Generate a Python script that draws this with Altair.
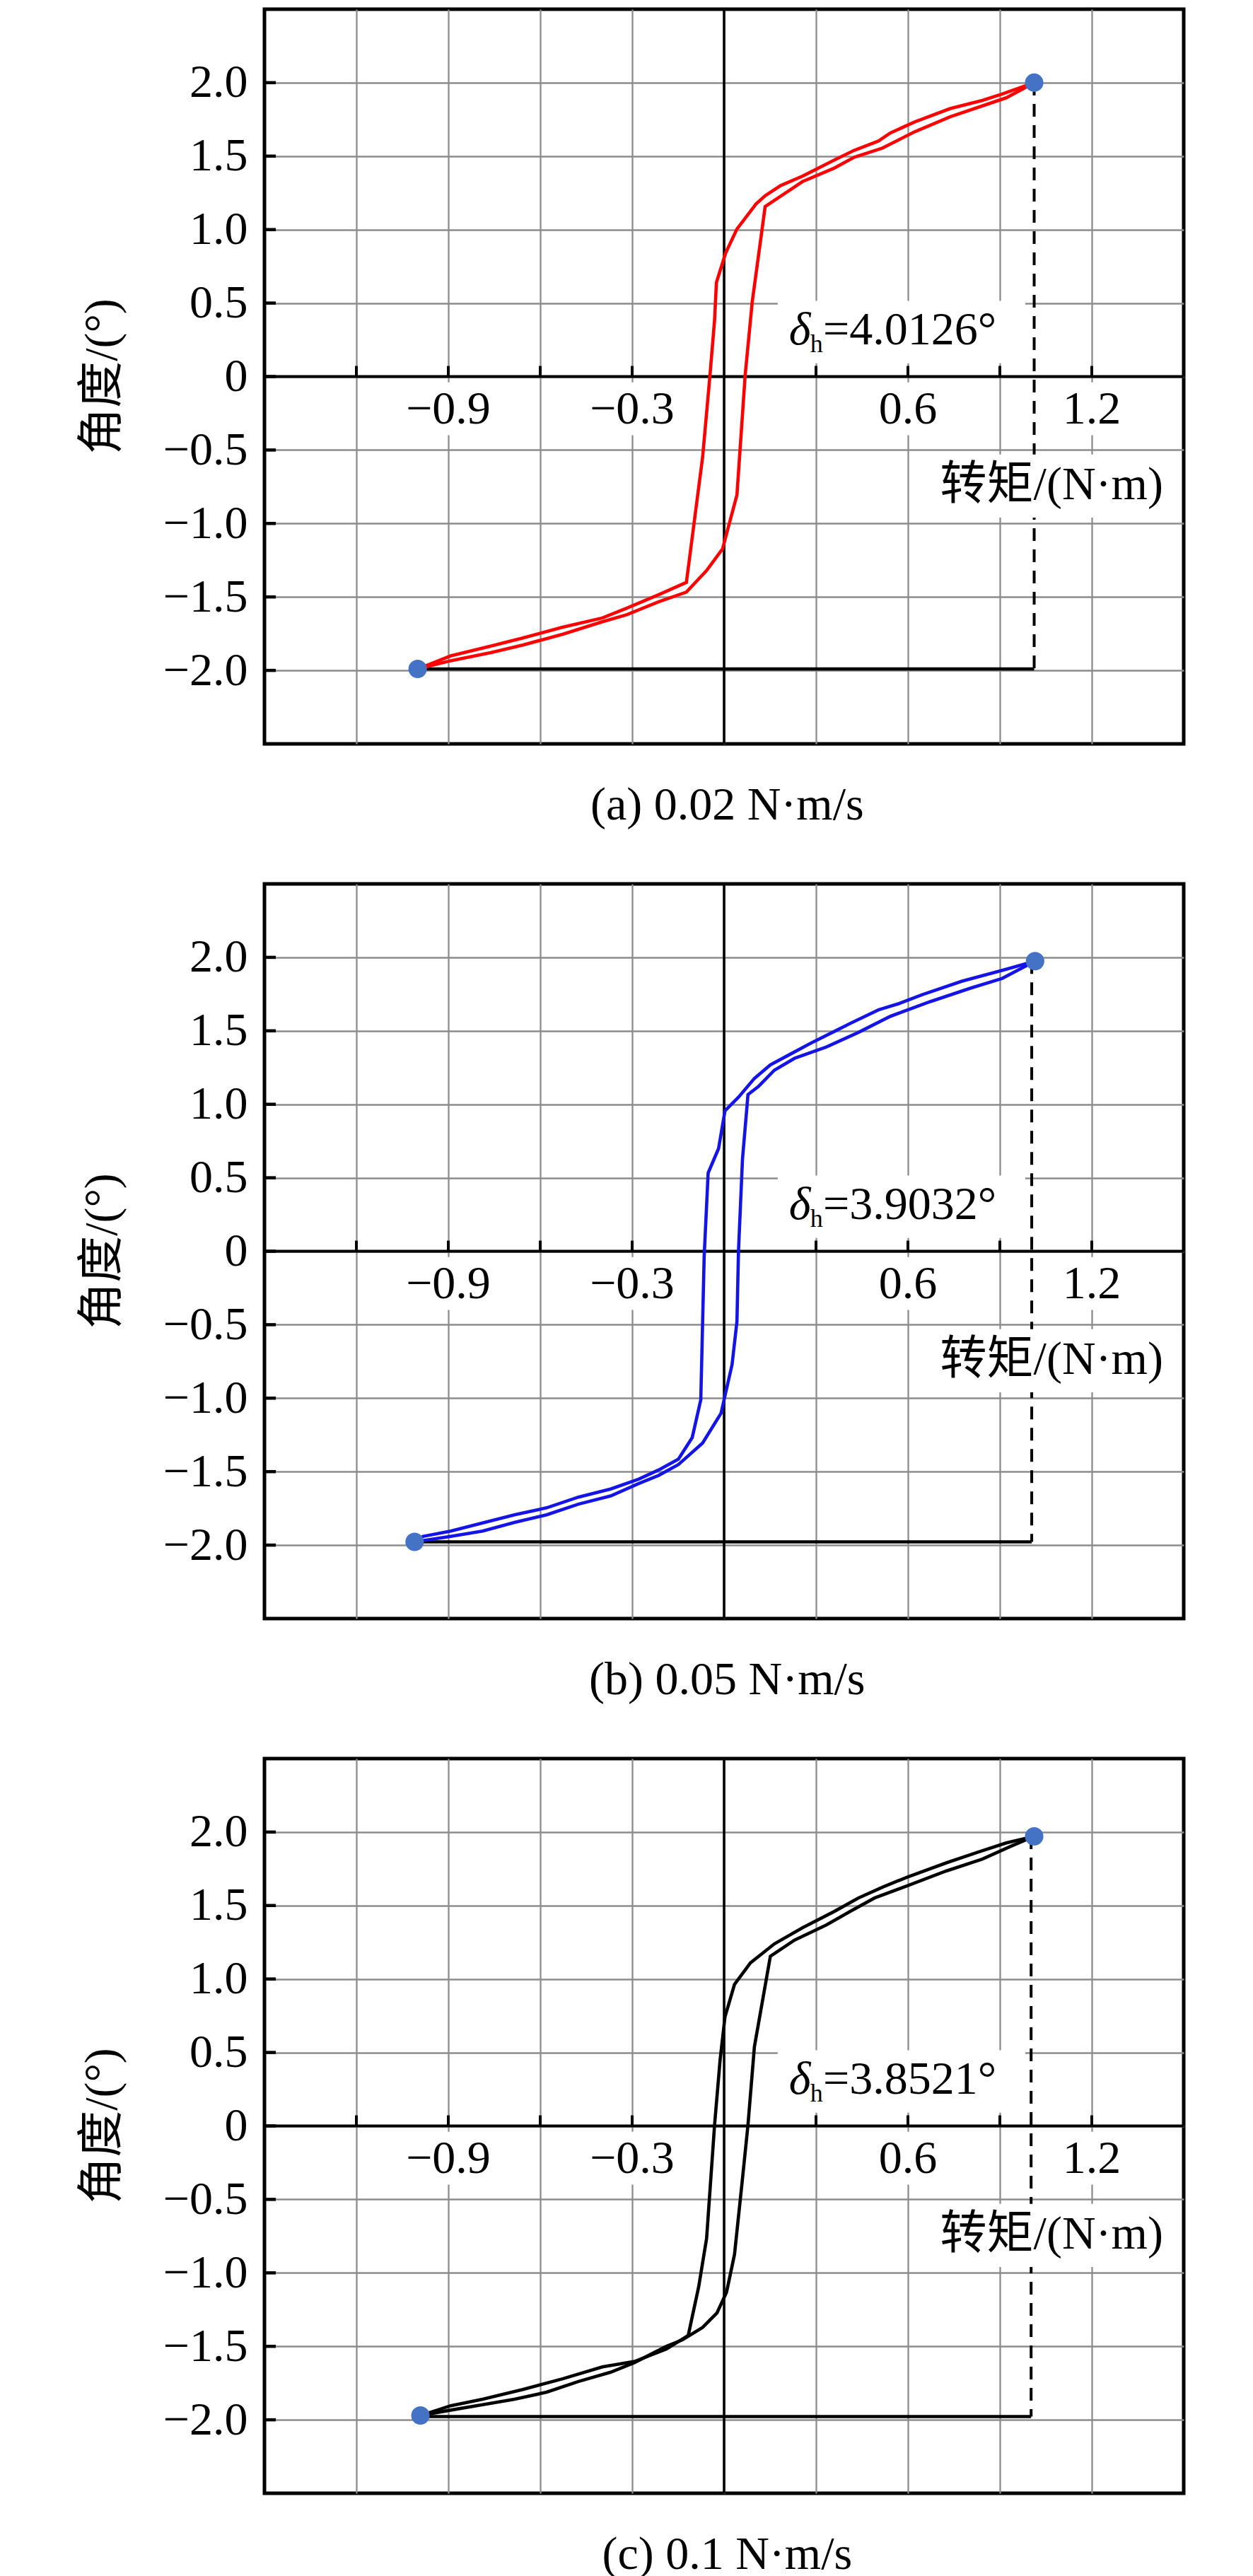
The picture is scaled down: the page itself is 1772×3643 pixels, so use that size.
import altair as alt
import pandas as pd

SERIF = "Liberation Serif"
MIXED = "Liberation Serif, Noto Sans CJK SC"

# ---------------- axis values ----------------
x_grid = [-1.2, -0.9, -0.6, -0.3, 0.0, 0.3, 0.6, 0.9, 1.2]
x_tick_marks = [-1.2, -0.9, -0.6, -0.3, 0.3, 0.6, 0.9, 1.2]
x_labels = [-0.9, -0.3, 0.6, 1.2]
x_label_text = ["−0.9", "−0.3", "0.6", "1.2"]
y_ticks = [-2.0, -1.5, -1.0, -0.5, 0.0, 0.5, 1.0, 1.5, 2.0]

captions = ["(a) 0.02 N·m/s", "(b) 0.05 N·m/s", "(c) 0.1 N·m/s"]
delta_values = ["=4.0126°", "=3.9032°", "=3.8521°"]
line_colors = ["#ff0000", "#1414e6", "#000000"]
x_title = "转矩/(N·m)"
y_title = "角度/(°)"

# ---------------- end points ----------------
left_x = [-1.0, -1.01, -0.991]
left_y = [-1.99, -1.978, -1.971]
right_x = [1.012, 1.015, 1.012]
right_y = [2.0, 1.974, 1.971]
dash_x = [1.012, 1.004, 1.002]
base_y = [-1.99, -1.978, -1.978]

# ---------------- panel (a) ----------------
a_up_x = [1.012, 0.908, 0.843, 0.738, 0.621, 0.543, 0.504, 0.425, 0.360, 0.256, 0.185, 0.134,
          0.104, 0.042, 0.005, -0.025, -0.031, -0.046, -0.070, -0.123, -0.214, -0.318, -0.397,
          -0.527, -0.657, -0.762, -0.892, -1.0]
a_up_y = [2.0, 1.923, 1.879, 1.824, 1.732, 1.658, 1.603, 1.540, 1.474, 1.364, 1.30, 1.23,
          1.174, 1.004, 0.84, 0.64, 0.385, 0.01, -0.548, -1.401, -1.485, -1.577, -1.643,
          -1.706, -1.779, -1.835, -1.901, -1.99]
a_lo_x = [-1.0, -0.892, -0.762, -0.657, -0.527, -0.397, -0.318, -0.214, -0.123, -0.057, -0.005,
          0.042, 0.069, 0.092, 0.134, 0.204, 0.256, 0.360, 0.425, 0.517, 0.621, 0.738, 0.843,
          0.921, 1.012]
a_lo_y = [-1.99, -1.934, -1.879, -1.827, -1.754, -1.669, -1.621, -1.533, -1.467, -1.320, -1.173,
          -0.805, 0.014, 0.51, 1.157, 1.254, 1.327, 1.419, 1.493, 1.555, 1.665, 1.768, 1.842,
          1.897, 2.0]

# ---------------- panel (b) ----------------
b_up_x = [1.015, 0.908, 0.777, 0.647, 0.569, 0.504, 0.412, 0.360, 0.282, 0.217, 0.151, 0.099,
          0.047, 0.003, -0.018, -0.052, -0.065, -0.076, -0.104, -0.149, -0.214, -0.279, -0.370,
          -0.475, -0.579, -0.684, -0.788, -0.892, -0.983, -1.01]
b_up_y = [1.974, 1.912, 1.838, 1.746, 1.684, 1.643, 1.551, 1.496, 1.415, 1.342, 1.268, 1.176,
          1.048, 0.956, 0.699, 0.533, -0.037, -1.011, -1.268, -1.415, -1.489, -1.551, -1.618,
          -1.673, -1.746, -1.794, -1.849, -1.904, -1.941, -1.978]
b_lo_x = [-1.01, -0.892, -0.788, -0.684, -0.579, -0.475, -0.370, -0.279, -0.214, -0.149, -0.070,
          -0.010, 0.026, 0.042, 0.047, 0.060, 0.078, 0.112, 0.164, 0.230, 0.334, 0.438, 0.543,
          0.673, 0.804, 0.908, 1.015]
b_lo_y = [-1.978, -1.941, -1.904, -1.846, -1.794, -1.721, -1.665, -1.581, -1.526, -1.452, -1.305,
          -1.103, -0.772, -0.478, 0.0, 0.625, 1.066, 1.121, 1.232, 1.313, 1.390, 1.489, 1.599,
          1.699, 1.790, 1.857, 1.974]

# ---------------- panel (c) ----------------
c_up_x = [1.012, 0.921, 0.830, 0.725, 0.595, 0.517, 0.438, 0.360, 0.256, 0.164, 0.086, 0.034,
          0.003, -0.013, -0.031, -0.057, -0.083, -0.117, -0.188, -0.292, -0.397, -0.527, -0.657,
          -0.788, -0.892, -0.991]
c_up_y = [1.971, 1.926, 1.864, 1.790, 1.691, 1.625, 1.551, 1.460, 1.349, 1.239, 1.110, 0.963,
          0.743, 0.449, 0.007, -0.765, -1.096, -1.426, -1.518, -1.603, -1.640, -1.721, -1.794,
          -1.860, -1.904, -1.971]
c_lo_x = [-0.991, -0.892, -0.788, -0.684, -0.579, -0.475, -0.370, -0.292, -0.188, -0.136, -0.070,
          -0.023, 0.008, 0.034, 0.060, 0.078, 0.099, 0.151, 0.230, 0.334, 0.412, 0.491, 0.595,
          0.725, 0.843, 0.934, 1.012]
c_lo_y = [-1.971, -1.934, -1.897, -1.860, -1.812, -1.739, -1.676, -1.610, -1.500, -1.456, -1.371,
          -1.272, -1.132, -0.875, -0.360, 0.007, 0.540, 1.154, 1.265, 1.368, 1.460, 1.551, 1.632,
          1.735, 1.816, 1.901, 1.971]

branches = [
    (a_up_x, a_up_y, a_lo_x, a_lo_y),
    (b_up_x, b_up_y, b_lo_x, b_lo_y),
    (c_up_x, c_up_y, c_lo_x, c_lo_y),
]

XS = alt.Scale(domain=[-1.5, 1.5], nice=False, zero=False)
YS = alt.Scale(domain=[-2.5, 2.5], nice=False, zero=False)
GRID = "#8c8c8c"
FS = 66


def one_row():
    return pd.DataFrame({"k": [0]})


def panel(i):
    ux, uy, lx, ly = branches[i]
    curve = pd.DataFrame({
        "x": ux + lx,
        "y": uy + ly,
        "branch": ["up"] * len(ux) + ["lo"] * len(lx),
        "idx": list(range(len(ux))) + list(range(len(lx))),
    })

    xticks = alt.Chart(pd.DataFrame({"x": x_tick_marks})).mark_rule(
        color="black", strokeWidth=4
    ).encode(
        x=alt.X("x:Q", scale=XS, axis=alt.Axis(
            values=x_grid, grid=True, gridColor=GRID, gridWidth=2.3, gridOpacity=1,
            labels=False, ticks=False, domain=False, title=None)),
        y=alt.datum(0.0),
        y2=alt.datum(0.072),
    )
    yticks = alt.Chart(pd.DataFrame({"y": y_ticks})).mark_rule(
        color="black", strokeWidth=4.5
    ).encode(
        y=alt.Y("y:Q", scale=YS, axis=alt.Axis(
            values=y_ticks, grid=True, gridColor=GRID, gridWidth=2.3, gridOpacity=1,
            ticks=False, tickSize=0, domain=False, title=None,
            labelExpr="datum.value == 0 ? '0' : format(datum.value, '.1f')",
            labelFont=SERIF, labelFontSize=FS, labelColor="black", labelPadding=24)),
        x=alt.datum(-1.5),
        x2=alt.datum(-1.463),
    )

    boxes = pd.DataFrame({
        "x1": [v - 0.13 for v in x_labels] + [0.175],
        "x2": [v + 0.13 for v in x_labels] + [0.983],
        "y1": [-0.04] * len(x_labels) + [0.09],
        "y2": [-0.40] * len(x_labels) + [0.515],
    })
    box_layer = alt.Chart(boxes).mark_rect(color="white").encode(
        x=alt.X("x1:Q"), x2="x2:Q", y=alt.Y("y1:Q"), y2="y2:Q")
    title_box = alt.Chart(pd.DataFrame({"x1": [0.70], "x2": [1.44], "y1": [-0.53], "y2": [-0.96]})
                          ).mark_rect(color="white").encode(
        x=alt.X("x1:Q"), x2="x2:Q", y=alt.Y("y1:Q"), y2="y2:Q")

    zero_h = alt.Chart(one_row()).mark_rule(color="black", strokeWidth=4.2).encode(
        x=alt.datum(-1.5), x2=alt.datum(1.5), y=alt.datum(0.0))
    zero_v = alt.Chart(one_row()).mark_rule(color="black", strokeWidth=3.6).encode(
        x=alt.datum(0.0), y=alt.datum(-2.5), y2=alt.datum(2.5))

    base = alt.Chart(one_row()).mark_rule(color="black", strokeWidth=4.5).encode(
        x=alt.datum(left_x[i]), x2=alt.datum(dash_x[i]), y=alt.datum(base_y[i]))
    dashed = alt.Chart(one_row()).mark_rule(color="black", strokeWidth=4, strokeDash=[18, 12]).encode(
        x=alt.datum(dash_x[i]), y=alt.datum(right_y[i]), y2=alt.datum(base_y[i]))

    line = alt.Chart(curve).mark_line(color=line_colors[i], strokeWidth=4.6).encode(
        x="x:Q", y="y:Q", detail="branch:N", order="idx:Q")

    dots = alt.Chart(pd.DataFrame({"x": [left_x[i], right_x[i]], "y": [left_y[i], right_y[i]]})
                     ).mark_circle(size=680, color="#4472c4", opacity=1).encode(x="x:Q", y="y:Q")

    xlab = alt.Chart(pd.DataFrame({"x": x_labels, "t": x_label_text})).mark_text(
        font=SERIF, fontSize=FS, align="center", baseline="alphabetic", color="black"
    ).encode(x="x:Q", y=alt.datum(-0.318), text="t:N")

    d_sym = alt.Chart(one_row()).mark_text(
        text="δ", font=SERIF, fontStyle="italic", fontSize=FS, align="left",
        baseline="alphabetic", color="black").encode(x=alt.datum(0.212), y=alt.datum(0.221))
    d_sub = alt.Chart(one_row()).mark_text(
        text="h", font=SERIF, fontSize=36, align="left",
        baseline="alphabetic", color="black").encode(x=alt.datum(0.281), y=alt.datum(0.164))
    d_val = alt.Chart(one_row()).mark_text(
        text=delta_values[i], font=SERIF, fontSize=FS, align="left",
        baseline="alphabetic", color="black").encode(x=alt.datum(0.323), y=alt.datum(0.221))

    xt = alt.Chart(one_row()).mark_text(
        text=x_title, font=MIXED, fontSize=FS, align="center",
        baseline="alphabetic", color="black").encode(x=alt.datum(1.069), y=alt.datum(-0.837))
    yt = alt.Chart(one_row()).mark_text(
        text=y_title, font=MIXED, fontSize=FS, align="center", angle=270,
        baseline="middle", color="black").encode(x=alt.datum(-2.028), y=alt.datum(0.0))
    cap = alt.Chart(one_row()).mark_text(
        text=captions[i], font=SERIF, fontSize=FS, align="center",
        baseline="alphabetic", color="black").encode(x=alt.datum(0.01), y=alt.datum(-3.015))

    return alt.layer(
        box_layer, xticks, yticks, zero_h, zero_v, base, dashed, title_box,
        line, dots, xlab, d_sym, d_sub, d_val, xt, yt, cap
    ).properties(width=1300, height=1039)


chart = alt.vconcat(panel(0), panel(1), panel(2), spacing=198, bounds="flush").properties(
    padding={"left": 101, "top": 0, "right": 0, "bottom": 0},
    background="white",
).configure_view(
    stroke="black", strokeWidth=5, fill="white"
).configure_axis(
    gridColor=GRID,
)

chart.save("out.html", embed_options={"renderer": "svg", "actions": False})
